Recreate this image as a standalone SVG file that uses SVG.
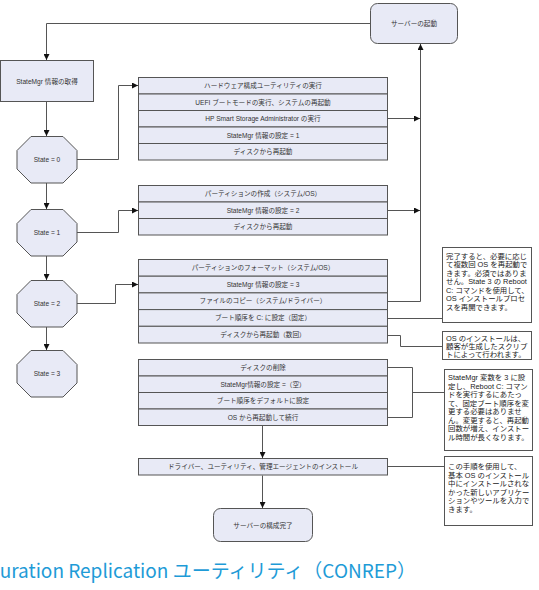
<svg xmlns="http://www.w3.org/2000/svg" width="539" height="590" viewBox="0 0 539 590">
<defs>
<style>
.bx{fill:#e8eaf6;stroke:#555;stroke-width:1}
.nt{fill:#fff;stroke:#555;stroke-width:1}
.ln{fill:none;stroke:#555;stroke-width:1}
.t{font-family:"Liberation Sans","Noto Sans CJK JP",sans-serif;font-size:6.6px;fill:#333;text-anchor:middle}
.n{font-family:"Liberation Sans","Noto Sans CJK JP",sans-serif;font-size:7.4px;fill:#222}
.ttl{font-family:"Noto Sans CJK JP","Noto Sans",sans-serif;font-size:19px;fill:#1e9bd7}
</style>
<marker id="ah" viewBox="0 0 10 10" refX="10" refY="5" markerWidth="6" markerHeight="6" orient="auto" markerUnits="userSpaceOnUse"><path d="M0,0L10,5L0,10z" fill="#111"/></marker>
</defs>
<rect width="539" height="590" fill="#fff"/>

<g id="connectors">
<path class="ln" d="M370,23.5H46.5V60" marker-end="url(#ah)"/>
<path class="ln" d="M46.5,102V136" marker-end="url(#ah)"/>
<path class="ln" d="M46.5,183V209" marker-end="url(#ah)"/>
<path class="ln" d="M46.5,256V280" marker-end="url(#ah)"/>
<path class="ln" d="M46.5,327V350" marker-end="url(#ah)"/>
<path class="ln" d="M77,159.5H118.5V85.5H138" marker-end="url(#ah)"/>
<path class="ln" d="M77,232.5H118.5V210.5H138" marker-end="url(#ah)"/>
<path class="ln" d="M77,303.5H115.5V284.5H138" marker-end="url(#ah)"/>
<path class="ln" d="M420.5,301.5V44" marker-end="url(#ah)"/>
<path class="ln" d="M387,301.5H420.5"/>
<path class="ln" d="M387,118.5H420" marker-end="url(#ah)"/>
<path class="ln" d="M387,210.5H420" marker-end="url(#ah)"/>
<path class="ln" d="M387,318.5H442"/>
<path class="ln" d="M387,335.5H400.5V346.5H442"/>
<path class="ln" d="M387,367.5H412.5V417.5H387M412.5,392.5H444"/>
<path class="ln" d="M387,466.5H444"/>
<path class="ln" d="M262.5,425.5V458" marker-end="url(#ah)"/>
<path class="ln" d="M262.5,475.5V508" marker-end="url(#ah)"/>
</g>

<g id="server-start">
<rect class="bx" x="370.5" y="3.5" width="87" height="40" rx="7"/>
<text class="t" x="414" y="26">サーバーの起動</text>
</g>

<g id="statemgr-get">
<rect class="bx" x="0.5" y="60.5" width="93" height="41"/>
<text class="t" x="47" y="84">StateMgr 情報の取得</text>
</g>

<g id="state0">
<path class="bx" d="M31,136.5H63L77,150.5V169L63,183H31L17,169V150.5Z"/>
<text class="t" x="47" y="162">State = 0</text>
</g>
<g id="state1">
<path class="bx" d="M31,209.5H63L77,223.5V242L63,256H31L17,242V223.5Z"/>
<text class="t" x="47" y="235">State = 1</text>
</g>
<g id="state2">
<path class="bx" d="M31,280.5H63L77,294.5V313L63,327H31L17,313V294.5Z"/>
<text class="t" x="47" y="306">State = 2</text>
</g>
<g id="state3">
<path class="bx" d="M31,350.5H63L77,364.5V383L63,397H31L17,383V364.5Z"/>
<text class="t" x="47" y="376">State = 3</text>
</g>

<g id="box1">
<rect class="bx" x="138.5" y="77.5" width="249" height="16.5"/>
<rect class="bx" x="138.5" y="94" width="249" height="16.5"/>
<rect class="bx" x="138.5" y="110.5" width="249" height="16.5"/>
<rect class="bx" x="138.5" y="127" width="249" height="16.5"/>
<rect class="bx" x="138.5" y="143.5" width="249" height="16.5"/>
<text class="t" x="263" y="88">ハードウェア構成ユーティリティの実行</text>
<text class="t" x="263" y="104.5">UEFI ブートモードの実行、システムの再起動</text>
<text class="t" x="263" y="121">HP Smart Storage Administrator の実行</text>
<text class="t" x="263" y="137.5">StateMgr 情報の設定 = 1</text>
<text class="t" x="263" y="154">ディスクから再起動</text>
</g>

<g id="box2">
<rect class="bx" x="138.5" y="185.5" width="249" height="16.5"/>
<rect class="bx" x="138.5" y="202" width="249" height="16.5"/>
<rect class="bx" x="138.5" y="218.5" width="249" height="16.5"/>
<text class="t" x="263" y="196">パーティションの作成（システム/OS）</text>
<text class="t" x="263" y="212.5">StateMgr  情報の設定 = 2</text>
<text class="t" x="263" y="229">ディスクから再起動</text>
</g>

<g id="box3">
<rect class="bx" x="138.5" y="259.5" width="249" height="16.7"/>
<rect class="bx" x="138.5" y="276.2" width="249" height="16.7"/>
<rect class="bx" x="138.5" y="292.9" width="249" height="16.7"/>
<rect class="bx" x="138.5" y="309.6" width="249" height="16.7"/>
<rect class="bx" x="138.5" y="326.3" width="249" height="16.7"/>
<text class="t" x="263" y="270">パーティションのフォーマット（システム/OS）</text>
<text class="t" x="263" y="286.7">StateMgr 情報の設定 = 3</text>
<text class="t" x="263" y="303.4">ファイルのコピー（システム/ドライバー）</text>
<text class="t" x="263" y="320.1">ブート順序を C: に設定（固定）</text>
<text class="t" x="263" y="336.8">ディスクから再起動（数回）</text>
</g>

<g id="box4">
<rect class="bx" x="138.5" y="359.5" width="249" height="16.5"/>
<rect class="bx" x="138.5" y="376" width="249" height="16.5"/>
<rect class="bx" x="138.5" y="392.5" width="249" height="16.5"/>
<rect class="bx" x="138.5" y="409" width="249" height="16.5"/>
<text class="t" x="263" y="370">ディスクの削除</text>
<text class="t" x="263" y="386.5">StateMgr情報の設定 =（空）</text>
<text class="t" x="263" y="403">ブート順序をデフォルトに設定</text>
<text class="t" x="263" y="419.5">OS から再起動して続行</text>
</g>

<g id="install">
<rect class="bx" x="138.5" y="458.5" width="249" height="16.5"/>
<text class="t" x="263" y="469">ドライバー、ユーティリティ、管理エージェントのインストール</text>
</g>

<g id="server-done">
<rect class="bx" x="213.5" y="508.5" width="99" height="33" rx="7"/>
<text class="t" x="263" y="527.5">サーバーの構成完了</text>
</g>

<g id="note1">
<rect class="nt" x="442.5" y="247.5" width="89" height="75"/>
<text class="n" x="446" y="258.5">完了すると、必要に応じ</text>
<text class="n" x="446" y="267">て複数回 OS を再起動で</text>
<text class="n" x="446" y="275.5">きます。必須ではありま</text>
<text class="n" x="446" y="284">せん。State 3 の Reboot</text>
<text class="n" x="446" y="292.5">C: コマンドを使用して、</text>
<text class="n" x="446" y="301">OS インストールプロセ</text>
<text class="n" x="446" y="309.5">スを再開できます。</text>
</g>

<g id="note2">
<rect class="nt" x="442.5" y="331.5" width="89" height="28"/>
<text class="n" x="446" y="341">OS のインストールは、</text>
<text class="n" x="446" y="349">顧客が生成したスクリプ</text>
<text class="n" x="446" y="357">トによって行われます。</text>
</g>

<g id="note3">
<rect class="nt" x="444.5" y="369.5" width="88" height="81"/>
<text class="n" x="448" y="380">StateMgr 変数を 3 に設</text>
<text class="n" x="448" y="388.5">定し、Reboot C: コマン</text>
<text class="n" x="448" y="397">ドを実行するにあたっ</text>
<text class="n" x="448" y="405.5">て、固定ブート順序を変</text>
<text class="n" x="448" y="414">更する必要はありませ</text>
<text class="n" x="448" y="422.5">ん。変更すると、再起動</text>
<text class="n" x="448" y="431">回数が増え、インストー</text>
<text class="n" x="448" y="439.5">ル時間が長くなります。</text>
</g>

<g id="note4">
<rect class="nt" x="444.5" y="456.5" width="88" height="69"/>
<text class="n" x="448" y="469">この手順を使用して、</text>
<text class="n" x="448" y="477.5">基本 OS のインストール</text>
<text class="n" x="448" y="486">中にインストールされな</text>
<text class="n" x="448" y="494.5">かった新しいアプリケー</text>
<text class="n" x="448" y="503">ションやツールを入力で</text>
<text class="n" x="448" y="511.5">きます。</text>
</g>

<text class="ttl" x="416" y="578" text-anchor="end">Configuration Replication ユーティリティ（CONREP）</text>
</svg>
